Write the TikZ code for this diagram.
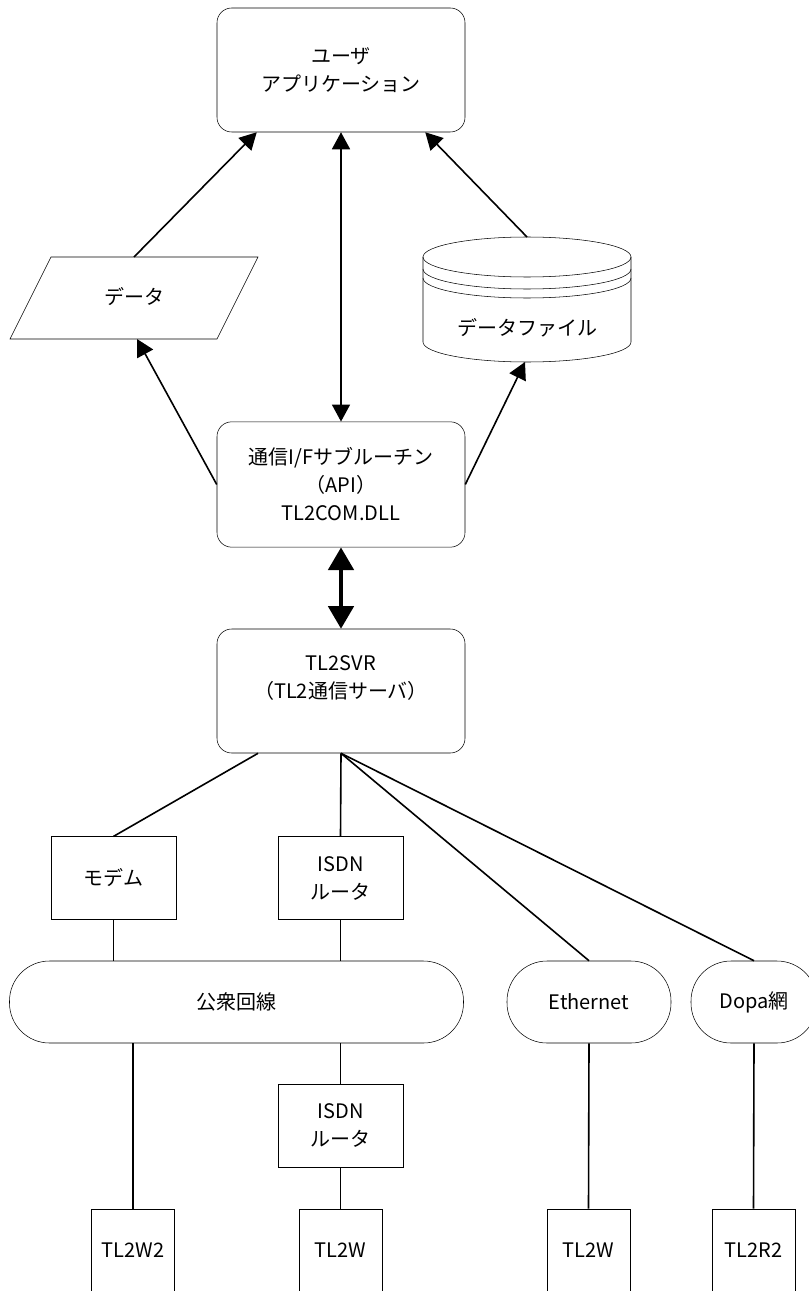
\documentclass[tikz,border=0pt]{standalone}
\usepackage{fontspec}
\setmainfont{Noto Sans CJK JP}
\usetikzlibrary{arrows.meta}

\begin{document}
\begin{tikzpicture}[x=0.75pt,y=-0.75pt,
    font=\fontsize{15pt}{21pt}\selectfont,
    rbox/.style={draw,rounded corners=11pt,minimum width=186pt,minimum height=93pt,align=center,inner sep=0pt},
    sbox/.style={draw,minimum width=94pt,minimum height=62pt,align=center,inner sep=0pt},
    tbox/.style={draw,minimum width=62pt,minimum height=62.5pt,inner sep=0pt},
    net/.style={draw,rounded corners=30pt,minimum height=61.5pt,inner sep=0pt},
    link/.style={line width=1.2pt},
    arr/.style={link,-{Triangle[length=12.75pt,width=13.5pt]}},
    darr/.style={link,{Triangle[length=12.75pt,width=13.5pt]}-{Triangle[length=12.75pt,width=13.5pt]}},
    fatarr/.style={line width=3pt,{Triangle[length=17pt,width=19pt]}-{Triangle[length=17pt,width=19pt]}}]
      \useasboundingbox (0,0) rectangle (809,1291);
      \clip (0,0) rectangle (809,1291);

      \node[rbox] (app) at (341,70) {ユーザ\\アプリケーション};
      \node[rbox,minimum height=94pt] (api) at (341,484.5) {通信I/Fサブルーチン\\（API）\\TL2COM.DLL};
      \node[rbox] (svr) at (341,691) {TL2SVR\\（TL2通信サーバ）\\\mbox{}};

      \draw (51,257) -- (258,257) -- (217,339) -- (10,339) -- cycle;
      \node (data) at (134,297) {データ};
      \coordinate (datatop) at (134,257);
      \coordinate (databot) at (137,339);

      \draw (423,257) -- (423,342) arc[start angle=180,end angle=360,x radius=78pt,y radius=15pt] -- (631,257);
      \draw (527,257) ellipse [x radius=78pt,y radius=15pt];
      \draw (423,269) arc[start angle=180,end angle=360,x radius=78pt,y radius=15pt];
      \draw (423,278) arc[start angle=180,end angle=360,x radius=78pt,y radius=15pt];
      \node (file) at (527,328) {データファイル};
      \coordinate (filetop) at (527,237);
      \coordinate (filebot) at (525,362);

      \node[sbox] (modem) at (113.5,878) {モデム};
      \node[sbox] (isdn1) at (340.5,878) {ISDN\\ルータ};
      \node[net,minimum width=340.5pt] (pub) at (236.5,1002) {公衆回線};
      \node[net,minimum width=123pt] (eth) at (589,1002) {Ethernet};
      \node[net,minimum width=94.5pt] (dopa) at (754,1002) {Dopa網};
      \node[sbox] (isdn2) at (340.5,1125.5) {ISDN\\ルータ};

      \node[tbox] (w2) at (133,1250.5) {TL2W2};
      \node[tbox] (w1) at (340.5,1250.5) {TL2W};
      \node[tbox] (w3) at (588.5,1250.5) {TL2W};
      \node[tbox] (r2) at (753.5,1250.5) {TL2R2};

      \draw[arr] (datatop) -- ([xshift=30pt]app.south west);
      \draw[arr] (filetop) -- ([xshift=-30pt]app.south east);
      \draw[darr] (app.south) -- (api.north);
      \draw[arr] (api.west) -- (databot);
      \draw[arr] (api.east) -- (filebot);
      \draw[fatarr] (api.south) -- (svr.north);

      \draw[link] ([xshift=31pt]svr.south west) -- (modem.north);
      \draw[link] (svr.south) -- (isdn1.north);
      \draw[link] (svr.south) -- (eth.north);
      \draw[link] (svr.south) -- (dopa.north);
      \draw[link] (modem.south) -- (modem.south |- pub.north);
      \draw[link] (isdn1.south) -- (isdn1.south |- pub.north);
      \draw[link] (w2.north |- pub.south) -- (w2.north);
      \draw[link] (isdn2.north |- pub.south) -- (isdn2.north);
      \draw[link] (isdn2.south) -- (w1.north);
      \draw[link] (eth.south) -- (w3.north);
      \draw[link] (dopa.south) -- (r2.north);
    \end{tikzpicture}
\end{document}
